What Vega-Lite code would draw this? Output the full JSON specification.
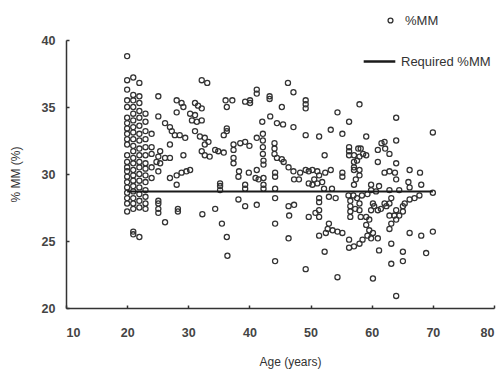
{
  "$schema": "https://vega.github.io/schema/vega-lite/v6.json",
  "width": 428,
  "height": 268,
  "autosize": {"type": "none"},
  "padding": {"left": 66, "top": 40, "right": 8, "bottom": 61},
  "background": "white",
  "config": {
    "view": {"stroke": null},
    "font": "Liberation Sans",
    "axis": {
      "grid": false,
      "domainColor": "#333",
      "domainWidth": 1.5,
      "tickColor": "#333",
      "tickWidth": 1.5,
      "tickSize": -3,
      "labelFont": "Liberation Sans",
      "labelFontSize": 12.5,
      "labelFontWeight": "bold",
      "labelColor": "#444",
      "titleFont": "Liberation Sans",
      "titleFontSize": 12,
      "titleColor": "#333",
      "titleFontWeight": "normal"
    },
    "legend": {
      "labelFont": "Liberation Sans",
      "labelFontSize": 13,
      "labelColor": "#333"
    }
  },
  "datasets": {
    "points": [
      {"age":20,"pct":38.8},{"age":20,"pct":37.0},{"age":20,"pct":36.3},{"age":20,"pct":35.5},{"age":20,"pct":35.0},{"age":20,"pct":34.2},{"age":20,"pct":33.8},{"age":20,"pct":33.4},{"age":20,"pct":33.0},{"age":20,"pct":32.6},{"age":20,"pct":32.2},{"age":20,"pct":31.4},{"age":20,"pct":30.9},{"age":20,"pct":30.5},{"age":20,"pct":30.2},{"age":20,"pct":29.8},{"age":20,"pct":29.4},{"age":20,"pct":29.0},{"age":20,"pct":28.6},{"age":20,"pct":28.2},{"age":20,"pct":27.8},{"age":20,"pct":27.2},
      {"age":21,"pct":37.2},{"age":21,"pct":35.9},{"age":21,"pct":35.5},{"age":21,"pct":35.0},{"age":21,"pct":34.5},{"age":21,"pct":34.0},{"age":21,"pct":33.5},{"age":21,"pct":33.1},{"age":21,"pct":32.6},{"age":21,"pct":32.1},{"age":21,"pct":31.7},{"age":21,"pct":31.2},{"age":21,"pct":30.8},{"age":21,"pct":30.3},{"age":21,"pct":29.9},{"age":21,"pct":29.5},{"age":21,"pct":29.1},{"age":21,"pct":28.7},{"age":21,"pct":28.2},{"age":21,"pct":27.8},{"age":21,"pct":27.4},{"age":21,"pct":25.7},{"age":21,"pct":25.5},
      {"age":22,"pct":36.8},{"age":22,"pct":35.8},{"age":22,"pct":35.3},{"age":22,"pct":34.7},{"age":22,"pct":34.2},{"age":22,"pct":33.6},{"age":22,"pct":33.0},{"age":22,"pct":32.5},{"age":22,"pct":31.9},{"age":22,"pct":31.4},{"age":22,"pct":30.9},{"age":22,"pct":30.5},{"age":22,"pct":30.0},{"age":22,"pct":29.5},{"age":22,"pct":29.0},{"age":22,"pct":28.5},{"age":22,"pct":28.0},{"age":22,"pct":27.5},{"age":22,"pct":25.3},
      {"age":23,"pct":34.5},{"age":23,"pct":33.9},{"age":23,"pct":33.2},{"age":23,"pct":32.6},{"age":23,"pct":32.0},{"age":23,"pct":31.4},{"age":23,"pct":30.8},{"age":23,"pct":30.4},{"age":23,"pct":29.9},{"age":23,"pct":29.4},{"age":23,"pct":28.8},{"age":23,"pct":28.3},{"age":23,"pct":27.8},{"age":23,"pct":27.4},
      {"age":24,"pct":33.0},{"age":24,"pct":32.0},{"age":24,"pct":31.5},{"age":24,"pct":30.5},{"age":24,"pct":29.7},
      {"age":25.1,"pct":35.8},{"age":28.1,"pct":35.5},{"age":28.9,"pct":35.3},{"age":29.2,"pct":35.0},{"age":28.1,"pct":34.6},{"age":31.1,"pct":35.3},{"age":31.6,"pct":35.1},{"age":32.2,"pct":34.9},{"age":30.3,"pct":34.5},{"age":31.1,"pct":34.4},{"age":30.6,"pct":34.0},{"age":31.4,"pct":33.9},{"age":32.2,"pct":34.0},{"age":25.1,"pct":34.3},{"age":26.2,"pct":33.8},{"age":27.0,"pct":33.5},{"age":27.3,"pct":33.2},{"age":27.8,"pct":32.9},{"age":28.6,"pct":32.9},{"age":29.5,"pct":32.7},{"age":31.1,"pct":33.2},{"age":31.9,"pct":32.8},{"age":32.7,"pct":32.7},{"age":33.3,"pct":32.4},{"age":32.7,"pct":32.2},{"age":27.0,"pct":32.2},{"age":32.2,"pct":31.7},{"age":32.7,"pct":31.4},{"age":33.5,"pct":31.3},{"age":34.4,"pct":31.8},{"age":34.9,"pct":31.7},{"age":25.4,"pct":31.7},{"age":25.1,"pct":31.3},{"age":26.2,"pct":31.2},{"age":27.0,"pct":31.2},{"age":24.8,"pct":30.9},{"age":25.4,"pct":30.8},{"age":29.2,"pct":31.4},{"age":25.1,"pct":30.2},{"age":28.1,"pct":29.9},{"age":28.9,"pct":30.1},{"age":29.7,"pct":30.2},{"age":30.3,"pct":30.3},{"age":27.0,"pct":29.7},{"age":28.1,"pct":29.2},{"age":35.2,"pct":29.3},{"age":35.2,"pct":29.1},{"age":35.2,"pct":28.8},{"age":25.1,"pct":28.0},{"age":25.1,"pct":27.8},{"age":25.1,"pct":27.4},{"age":25.1,"pct":27.1},{"age":26.2,"pct":26.4},{"age":28.3,"pct":27.4},{"age":28.3,"pct":27.2},{"age":32.3,"pct":27.0},{"age":34.4,"pct":27.4},{"age":35.5,"pct":26.3},{"age":36.3,"pct":25.3},{"age":36.4,"pct":23.9},{"age":32.2,"pct":37.0},{"age":33.1,"pct":36.8},
      {"age":46.3,"pct":36.8},{"age":47.2,"pct":36.1},{"age":41.2,"pct":36.3},{"age":41.2,"pct":36.0},{"age":43.3,"pct":35.8},{"age":43.3,"pct":35.6},{"age":36.1,"pct":35.5},{"age":37.2,"pct":35.5},{"age":36.3,"pct":35.0},{"age":39.3,"pct":35.4},{"age":40.1,"pct":35.5},{"age":40.1,"pct":35.3},{"age":45.3,"pct":35.0},{"age":42.1,"pct":33.9},{"age":43.4,"pct":34.3},{"age":44.5,"pct":33.8},{"age":45.5,"pct":33.7},{"age":47.2,"pct":33.5},{"age":36.3,"pct":33.4},{"age":36.3,"pct":33.2},{"age":35.8,"pct":32.9},{"age":42.2,"pct":33.0},{"age":41.2,"pct":32.7},{"age":42.2,"pct":32.5},{"age":39.3,"pct":32.4},{"age":38.5,"pct":32.3},{"age":37.4,"pct":32.2},{"age":37.4,"pct":31.8},{"age":40.0,"pct":32.1},{"age":44.1,"pct":32.3},{"age":44.1,"pct":31.9},{"age":44.1,"pct":31.5},{"age":44.5,"pct":31.2},{"age":45.3,"pct":31.1},{"age":45.6,"pct":30.9},{"age":46.4,"pct":30.5},{"age":42.2,"pct":32.0},{"age":42.2,"pct":31.5},{"age":42.3,"pct":31.0},{"age":42.3,"pct":30.7},{"age":37.4,"pct":31.2},{"age":37.4,"pct":30.8},{"age":35.8,"pct":31.6},{"age":38.2,"pct":29.8},{"age":39.9,"pct":30.1},{"age":41.0,"pct":29.7},{"age":41.5,"pct":29.6},{"age":42.3,"pct":29.7},{"age":41.2,"pct":30.3},{"age":44.2,"pct":30.1},{"age":39.3,"pct":29.2},{"age":39.3,"pct":28.9},{"age":42.3,"pct":29.2},{"age":42.3,"pct":28.9},{"age":44.2,"pct":29.8},{"age":44.2,"pct":28.9},{"age":44.2,"pct":28.2},{"age":38.2,"pct":28.1},{"age":39.3,"pct":27.6},{"age":41.2,"pct":27.7},{"age":46.4,"pct":27.6},{"age":46.5,"pct":26.9},{"age":44.2,"pct":26.3},{"age":46.4,"pct":25.2},{"age":44.2,"pct":23.5},{"age":38.3,"pct":30.2},
      {"age":49.2,"pct":35.5},{"age":49.2,"pct":35.2},{"age":49.2,"pct":34.9},{"age":54.4,"pct":34.6},{"age":56.3,"pct":33.9},{"age":53.3,"pct":33.3},{"age":55.2,"pct":33.0},{"age":49.2,"pct":32.9},{"age":51.4,"pct":32.8},{"age":56.3,"pct":32.0},{"age":56.3,"pct":31.7},{"age":56.3,"pct":31.4},{"age":57.1,"pct":31.4},{"age":57.6,"pct":31.0},{"age":57.8,"pct":31.9},{"age":52.3,"pct":31.4},
      {"age":47.3,"pct":29.6},{"age":48.1,"pct":29.6},{"age":49.2,"pct":30.3},{"age":49.7,"pct":30.2},{"age":50.3,"pct":30.3},{"age":51.1,"pct":30.2},{"age":51.4,"pct":29.9},{"age":50.6,"pct":29.6},{"age":51.1,"pct":29.3},{"age":51.9,"pct":29.4},{"age":49.7,"pct":29.3},{"age":50.3,"pct":29.2},{"age":52.2,"pct":28.9},{"age":53.3,"pct":30.3},{"age":55.2,"pct":30.1},{"age":55.2,"pct":29.8},{"age":57.1,"pct":30.9},{"age":57.1,"pct":30.5},{"age":57.1,"pct":30.3},{"age":57.4,"pct":29.6},{"age":57.1,"pct":29.2},{"age":47.2,"pct":30.2},{"age":48.3,"pct":30.1},{"age":52.4,"pct":30.1},{"age":53.5,"pct":28.9},
      {"age":47.3,"pct":27.7},{"age":51.4,"pct":28.2},{"age":51.4,"pct":27.9},{"age":53.0,"pct":28.3},{"age":54.1,"pct":28.2},{"age":56.2,"pct":28.4},{"age":56.5,"pct":28.0},{"age":57.0,"pct":28.4},{"age":57.6,"pct":28.2},{"age":56.5,"pct":27.6},{"age":56.5,"pct":27.2},{"age":57.3,"pct":27.4},{"age":56.5,"pct":26.8},{"age":49.7,"pct":26.8},{"age":50.8,"pct":27.1},{"age":51.4,"pct":27.3},{"age":51.4,"pct":26.8},{"age":53.0,"pct":26.3},{"age":52.8,"pct":25.9},{"age":53.6,"pct":25.8},{"age":54.4,"pct":25.7},{"age":55.2,"pct":25.6},{"age":51.4,"pct":25.4},{"age":52.5,"pct":25.6},{"age":56.3,"pct":25.1},{"age":56.3,"pct":24.5},{"age":57.1,"pct":24.6},{"age":52.3,"pct":24.2},{"age":49.2,"pct":22.9},{"age":54.4,"pct":22.3},
      {"age":58.0,"pct":35.2},{"age":64.0,"pct":34.2},{"age":70.0,"pct":33.1},{"age":59.1,"pct":32.8},{"age":62.1,"pct":32.4},{"age":64.0,"pct":32.5},{"age":58.2,"pct":31.9},{"age":61.6,"pct":32.3},{"age":61.0,"pct":31.8},{"age":62.2,"pct":31.9},{"age":62.9,"pct":31.5},{"age":58.0,"pct":31.3},{"age":59.1,"pct":31.4},{"age":58.6,"pct":31.5},{"age":61.0,"pct":30.9},{"age":64.0,"pct":30.8},{"age":66.2,"pct":30.3},{"age":58.0,"pct":30.3},{"age":58.0,"pct":29.9},{"age":62.1,"pct":30.1},{"age":62.9,"pct":30.2},{"age":63.8,"pct":30.1},{"age":67.9,"pct":30.1},{"age":64.0,"pct":29.6},{"age":66.0,"pct":29.4},{"age":68.1,"pct":29.2},{"age":59.9,"pct":29.2},{"age":66.2,"pct":29.0},{"age":62.9,"pct":28.8},{"age":64.5,"pct":28.8},{"age":61.2,"pct":29.1},
      {"age":70.0,"pct":28.6},{"age":67.8,"pct":28.4},{"age":67.0,"pct":28.2},{"age":66.2,"pct":28.1},{"age":65.4,"pct":27.8},{"age":65.1,"pct":27.6},{"age":60.7,"pct":28.7},{"age":59.9,"pct":28.8},{"age":59.3,"pct":28.5},{"age":58.4,"pct":28.4},{"age":63.2,"pct":28.2},{"age":62.9,"pct":27.8},{"age":62.1,"pct":27.8},{"age":62.4,"pct":27.6},{"age":61.5,"pct":27.4},{"age":61.0,"pct":27.3},{"age":60.4,"pct":27.6},{"age":60.2,"pct":27.8},{"age":59.9,"pct":27.3},{"age":64.0,"pct":27.3},{"age":65.1,"pct":27.2},{"age":64.5,"pct":26.9},{"age":63.7,"pct":26.9},{"age":62.9,"pct":26.9},{"age":64.0,"pct":26.6},{"age":63.2,"pct":26.3},{"age":62.9,"pct":25.9},{"age":59.1,"pct":26.8},{"age":59.6,"pct":26.6},{"age":59.1,"pct":26.2},{"age":59.6,"pct":25.8},{"age":60.2,"pct":25.6},{"age":59.3,"pct":25.4},{"age":59.9,"pct":25.2},{"age":61.0,"pct":25.2},{"age":61.2,"pct":24.3},{"age":58.0,"pct":27.8},{"age":58.0,"pct":27.3},{"age":58.2,"pct":26.8},{"age":58.5,"pct":25.1},{"age":58.0,"pct":24.8},{"age":66.2,"pct":25.6},{"age":68.1,"pct":25.4},{"age":70.0,"pct":25.7},{"age":63.2,"pct":24.8},{"age":65.1,"pct":24.2},{"age":65.1,"pct":23.5},{"age":68.9,"pct":24.1},{"age":63.2,"pct":23.3},{"age":60.2,"pct":22.2},{"age":64.0,"pct":20.9}
    ],
    "required": [
      {"from": 20, "to": 70, "pct": 28.7}
    ]
  },
  "layer": [
    {
      "data": {"name": "points"},
      "mark": {"type": "point", "shape": "circle", "filled": false, "stroke": "#333", "strokeWidth": 1.3, "size": 26, "opacity": 1},
      "encoding": {
        "x": {
          "field": "age", "type": "quantitative",
          "scale": {"domain": [10, 80], "nice": false, "zero": false},
          "axis": {"values": [10, 20, 30, 40, 50, 60, 70, 80], "title": "Age (years)", "labelPadding": 21, "titlePadding": 18, "titleX": 224}
        },
        "y": {
          "field": "pct", "type": "quantitative",
          "scale": {"domain": [20, 40], "nice": false, "zero": false},
          "axis": {"values": [20, 25, 30, 35, 40], "title": "% MM (%)", "labelPadding": 14, "titlePadding": 19}
        },
        "shape": {
          "datum": "%MM",
          "scale": {"range": ["circle"]},
          "legend": {"title": null, "orient": "none", "legendX": 318, "legendY": -26, "symbolSize": 24, "symbolStrokeWidth": 1.3, "symbolStrokeColor": "#333", "labelOffset": 8}
        }
      }
    },
    {
      "data": {"name": "required"},
      "mark": {"type": "rule", "strokeWidth": 2},
      "encoding": {
        "x": {"field": "from", "type": "quantitative"},
        "x2": {"field": "to"},
        "y": {"field": "pct", "type": "quantitative"},
        "color": {
          "datum": "Required %MM",
          "scale": {"range": ["#1a1a1a"]},
          "legend": {"title": null, "orient": "none", "legendX": 296, "legendY": 4, "symbolType": "stroke", "symbolSize": 1000, "symbolStrokeWidth": 2.5, "labelOffset": 4}
        }
      }
    }
  ]
}
